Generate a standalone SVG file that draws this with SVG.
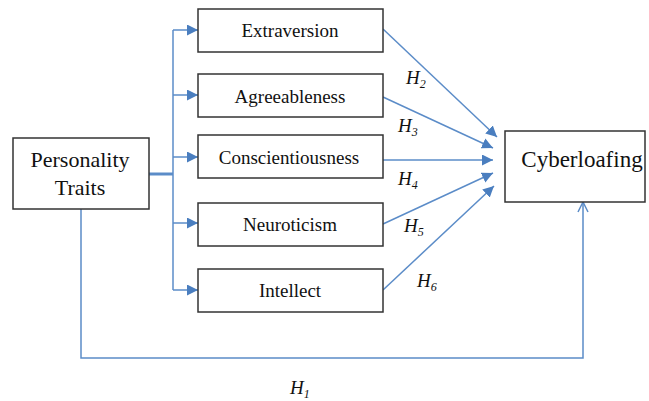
<svg xmlns="http://www.w3.org/2000/svg" width="649" height="401" viewBox="0 0 649 401">
<style>
.box{fill:#fff;stroke:#333;stroke-width:1.5}
.lbl{font-family:"Liberation Serif",serif;font-size:19px;fill:#111;text-anchor:middle}
.big{font-size:22px}
.cy{font-size:23px}
.conn{fill:none;stroke:#5b8cc8;stroke-width:1.5}
.h{font-family:"Liberation Serif",serif;font-style:italic;font-size:19px;fill:#111}
.sub{font-size:12px}
</style>
<defs>
<marker id="ah" viewBox="0 0 10 10" refX="10" refY="5" markerWidth="11" markerHeight="11" markerUnits="userSpaceOnUse" orient="auto">
<path d="M0,0 L10,5 L0,10 z" fill="#4a7ebf"/>
</marker>
<marker id="open" viewBox="0 0 12 12" refX="11" refY="6" markerWidth="12" markerHeight="12" markerUnits="userSpaceOnUse" orient="auto">
<path d="M1,1 L11,6 L1,11" fill="none" stroke="#5b8cc8" stroke-width="1.5"/>
</marker>
</defs>
<g id="connectors">
<path class="conn" d="M149,174 H173" style="stroke-width:3"/>
<path class="conn" d="M173,30 V290"/>
<path class="conn" d="M173,30 H198" marker-end="url(#ah)"/>
<path class="conn" d="M173,95 H198" marker-end="url(#ah)"/>
<path class="conn" d="M173,157 H198" marker-end="url(#ah)"/>
<path class="conn" d="M173,223 H198" marker-end="url(#ah)"/>
<path class="conn" d="M173,290 H198" marker-end="url(#ah)"/>
<path class="conn" d="M383,29 L497,137" marker-end="url(#ah)"/>
<path class="conn" d="M383,97 L493,148" marker-end="url(#ah)"/>
<path class="conn" d="M383,160 L493,160" marker-end="url(#ah)"/>
<path class="conn" d="M383,224 L493,173" marker-end="url(#ah)"/>
<path class="conn" d="M383,290 L494,186" marker-end="url(#ah)"/>
<path class="conn" d="M81,209 V358 H583 V202" marker-end="url(#open)"/>
</g>
<g id="personality">
<rect class="box" x="13" y="138" width="136" height="71"/>
<text class="lbl big" x="80" y="167">Personality</text>
<text class="lbl big" x="80" y="195">Traits</text>
</g>
<g id="extraversion">
<rect class="box" x="198" y="9" width="185" height="43"/>
<text class="lbl" x="290" y="37">Extraversion</text>
</g>
<g id="agreeableness">
<rect class="box" x="198" y="74" width="185" height="43"/>
<text class="lbl" x="290" y="103">Agreeableness</text>
</g>
<g id="conscientiousness">
<rect class="box" x="198" y="135" width="185" height="43"/>
<text class="lbl" x="289" y="164">Conscientiousness</text>
</g>
<g id="neuroticism">
<rect class="box" x="198" y="203" width="185" height="43"/>
<text class="lbl" x="290" y="231">Neuroticism</text>
</g>
<g id="intellect">
<rect class="box" x="198" y="269" width="185" height="43"/>
<text class="lbl" x="290" y="297">Intellect</text>
</g>
<g id="cyberloafing">
<rect class="box" x="505" y="131" width="140" height="71"/>
<text class="lbl cy" x="582" y="167">Cyberloafing</text>
</g>
<g id="labels">
<text class="h" x="406" y="84">H<tspan class="sub" dy="4">2</tspan></text>
<text class="h" x="398" y="132">H<tspan class="sub" dy="4">3</tspan></text>
<text class="h" x="398" y="185">H<tspan class="sub" dy="4">4</tspan></text>
<text class="h" x="404" y="232">H<tspan class="sub" dy="4">5</tspan></text>
<text class="h" x="417" y="287">H<tspan class="sub" dy="4">6</tspan></text>
<text class="h" x="290" y="394">H<tspan class="sub" dy="4">1</tspan></text>
</g>
</svg>
